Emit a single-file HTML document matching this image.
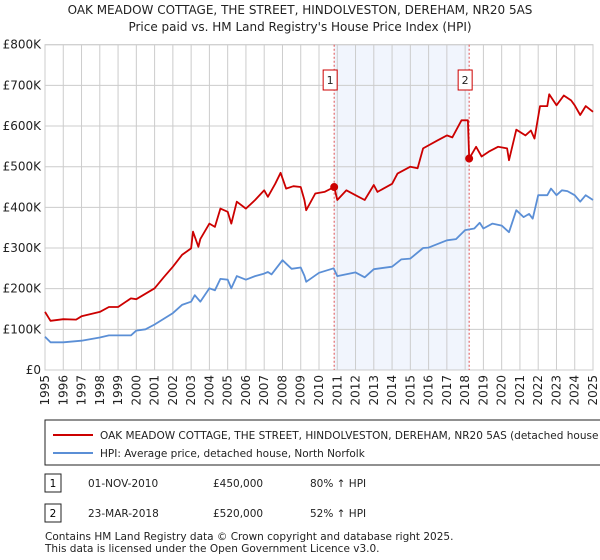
<!DOCTYPE html>
<html><head><meta charset="utf-8"><style>
body{margin:0;background:#fff;font-family:"DejaVu Sans","Liberation Sans",sans-serif;}
#wrap{position:relative;width:600px;height:560px;overflow:hidden;}
svg text{font-family:"DejaVu Sans","Liberation Sans",sans-serif;}
</style></head><body>
<div id="wrap">
<svg id="chart" width="600" height="560" style="position:absolute;left:0;top:0">
<text x="300" y="14" text-anchor="middle" font-size="12" fill="#222">OAK MEADOW COTTAGE, THE STREET, HINDOLVESTON, DEREHAM, NR20 5AS</text>
<text x="300" y="31" text-anchor="middle" font-size="12" fill="#222">Price paid vs. HM Land Registry's House Price Index (HPI)</text>
<g id="grid"></g><g id="series"></g><g id="axes"></g>
<rect x="45" y="420" width="560" height="45" fill="#fff" stroke="#222"/>
<line x1="53" y1="435" x2="93" y2="435" stroke="#cc0000" stroke-width="2"/>
<text x="100" y="439" font-size="10.5" fill="#222">OAK MEADOW COTTAGE, THE STREET, HINDOLVESTON, DEREHAM, NR20 5AS (detached house</text>
<line x1="53" y1="453" x2="93" y2="453" stroke="#5b8fd6" stroke-width="2"/>
<text x="100" y="457" font-size="10.5" fill="#222">HPI: Average price, detached house, North Norfolk</text>
<rect x="45" y="474" width="16" height="18" fill="#fff" stroke="#222"/>
<text x="53" y="487" text-anchor="middle" font-size="10.5">1</text>
<text x="88" y="487" font-size="10.5" fill="#222">01-NOV-2010</text>
<text x="213" y="487" font-size="10.5" fill="#222">£450,000</text>
<text x="310" y="487" font-size="10.5" fill="#222">80% ↑ HPI</text>
<rect x="45" y="504" width="16" height="18" fill="#fff" stroke="#222"/>
<text x="53" y="517" text-anchor="middle" font-size="10.5">2</text>
<text x="88" y="517" font-size="10.5" fill="#222">23-MAR-2018</text>
<text x="213" y="517" font-size="10.5" fill="#222">£520,000</text>
<text x="310" y="517" font-size="10.5" fill="#222">52% ↑ HPI</text>
<text x="45" y="540" font-size="10.5" fill="#222">Contains HM Land Registry data © Crown copyright and database right 2025.</text>
<text x="45" y="552" font-size="10.5" fill="#222">This data is licensed under the Open Government Licence v3.0.</text>
</svg>
</div>
<script>
const hpiYears=[1995,1995.3,1996,1997,1998,1998.5,1999,1999.7,2000,2000.5,2001,2002,2002.5,2003,2003.2,2003.5,2004,2004.3,2004.6,2005,2005.2,2005.5,2006,2006.5,2007,2007.2,2007.4,2008,2008.5,2009,2009.2,2009.3,2010,2010.8,2011,2012,2012.5,2013,2014,2014.5,2015,2015.7,2016,2017,2017.5,2018,2018.5,2018.8,2019,2019.5,2020,2020.4,2020.8,2021.2,2021.5,2021.7,2022,2022.5,2022.7,2023,2023.3,2023.6,2024,2024.3,2024.6,2025];
const hpiValues=[82,68,68,72,80,85,85,85,97,100,112,140,160,168,184,168,201,196,224,222,201,231,222,231,237,241,235,270,249,252,232,217,239,250,231,240,228,248,254,272,274,300,301,319,322,344,348,362,348,360,355,339,393,376,384,372,430,430,446,430,442,440,430,414,430,418];
const priceYears=[1995,1995.3,1996,1996.7,1997,1998,1998.5,1999,1999.7,2000,2001,2001.5,2002,2002.5,2003,2003.1,2003.4,2003.5,2004,2004.3,2004.6,2005,2005.2,2005.5,2006,2006.5,2007,2007.2,2007.6,2007.9,2008.2,2008.6,2009,2009.2,2009.3,2009.8,2010.3,2010.83,2011,2011.5,2012,2012.5,2013,2013.2,2014,2014.3,2015,2015.4,2015.7,2016.5,2017,2017.3,2017.8,2018.15,2018.22,2018.6,2018.9,2019.3,2019.8,2020.3,2020.4,2020.8,2021.3,2021.6,2021.8,2022.1,2022.5,2022.6,2023,2023.4,2023.8,2024,2024.3,2024.6,2025];
const priceValues=[143,121,125,124,132,143,155,155,176,174,201,228,254,283,299,340,303,322,360,352,397,389,360,414,397,418,442,426,458,485,446,452,450,418,393,434,438,450,418,442,430,418,455,438,458,483,500,496,545,565,577,572,614,614,520,549,525,537,549,545,516,591,577,589,569,649,649,678,651,675,663,651,627,649,635];
const saleYears=[2010.83,2018.22];
const saleValues=[450,520];
const saleLabels=["1","2"];
const yTicks=[0,100,200,300,400,500,600,700,800];
const yTickLabels=["£0","£100K","£200K","£300K","£400K","£500K","£600K","£700K","£800K"];
const xTicks=[1995,1996,1997,1998,1999,2000,2001,2002,2003,2004,2005,2006,2007,2008,2009,2010,2011,2012,2013,2014,2015,2016,2017,2018,2019,2020,2021,2022,2023,2024,2025];

const NS="http://www.w3.org/2000/svg";
const L=45,R=593,T=44.7,B=370;
const xs=y=>L+(y-1995)/30*(R-L);
const ys=v=>B-v/800*(B-T);
function mk(tag,attrs,parent){const e=document.createElementNS(NS,tag);for(const k in attrs)e.setAttribute(k,attrs[k]);parent.appendChild(e);return e;}
const grid=document.getElementById('grid'),series=document.getElementById('series'),axes=document.getElementById('axes');
let e=mk('rect',{x:xs(saleYears[0]),y:T,width:xs(saleYears[1])-xs(saleYears[0]),height:B-T,fill:'#eef3fd',opacity:0.8},grid);


yTicks.forEach((t,i)=>{
 let l=mk('line',{x1:L,x2:R,y1:ys(t),y2:ys(t),stroke:'#cccccc'},grid);
 
 
 let tx=mk('text',{x:L-4,y:ys(t)+4,'text-anchor':'end','font-size':12,fill:'#222'},axes);
 tx.textContent=yTickLabels[i];
 
 
});
xTicks.forEach(t=>{
 let l=mk('line',{x1:xs(t),x2:xs(t),y1:T,y2:B,stroke:'#cccccc'},grid);
 
 
 let tx=mk('text',{x:0,y:0,'text-anchor':'end','font-size':12,fill:'#222',transform:`translate(${xs(t)+4},${B+5}) rotate(-90)`},axes);
 tx.textContent=t;
 
 
});
let ax=mk('rect',{x:L,y:T,width:R-L,height:B-T,fill:'none',stroke:'#cccccc'},grid);


saleYears.forEach((s,i)=>{
 let l=mk('line',{x1:xs(s),x2:xs(s),y1:T,y2:B,stroke:'#e05050','stroke-dasharray':'2,2','stroke-width':1},series);
 
 
});
function path(xa,va,color,name){
 const d=xa.map((x,i)=>(i?'L':'M')+xs(x).toFixed(1)+','+ys(va[i]).toFixed(1)).join('');
 let p=mk('path',{d:d,fill:'none',stroke:color,'stroke-width':1.8,'stroke-linejoin':'round'},series);
 
 
}
path(hpiYears,hpiValues,'#5b8fd6','hpi-line');
path(priceYears,priceValues,'#cc0000','property-price-line');
saleYears.forEach((s,i)=>{
 let c=mk('circle',{cx:xs(s),cy:ys(saleValues[i]),r:4,fill:'#cc0000'},series);
 
 
 let b=mk('rect',{x:xs(s)-11,y:70,width:14,height:20,fill:'#fff',stroke:'#cc0000'},series);
 
 
 let t=mk('text',{x:xs(s)-4,y:84,'text-anchor':'middle','font-size':11,fill:'#222'},series);
 t.textContent=saleLabels[i];
 
 
});
</script>
</body></html>
